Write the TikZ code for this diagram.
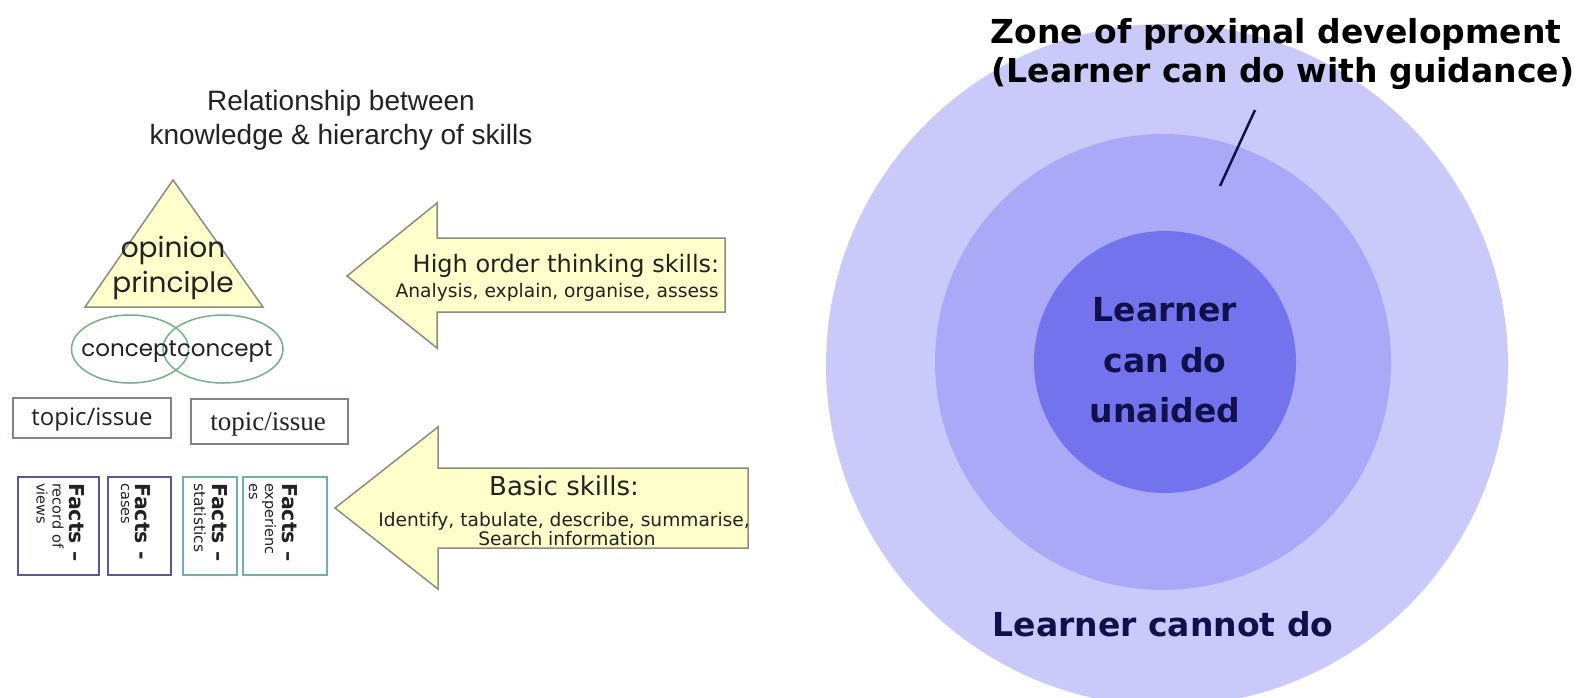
\documentclass[tikz,border=0pt]{standalone}
\usepackage{fontspec}
\setmainfont{Liberation Sans}
\newfontfamily\dvs{DejaVu Sans}
\newfontfamily\popp{Poppins}
\newfontfamily\opsans{Open Sans}
\newfontfamily\tnr{Liberation Serif}
\usetikzlibrary{shapes.geometric}
\definecolor{paleyellow}{HTML}{FFFFCC}
\definecolor{shapegray}{HTML}{8C8C80}
\definecolor{conceptgreen}{HTML}{78AE88}
\definecolor{topicgray}{HTML}{8A7F8A}
\definecolor{factpurple}{HTML}{5E5591}
\definecolor{factteal}{HTML}{74AEAA}
\definecolor{outerc}{HTML}{CACAFA}
\definecolor{middlec}{HTML}{A9A9F7}
\definecolor{innerc}{HTML}{7373EE}
\definecolor{navy}{HTML}{10104A}
\definecolor{darktext}{HTML}{222222}
\begin{document}
\begin{tikzpicture}[x=1pt,y=-1pt,
  yshape/.style={draw=shapegray, fill=paleyellow, line width=1.5pt, line join=miter},
  conceptell/.style={ellipse, draw=conceptgreen, line width=1.5pt, inner sep=0pt},
  topicbox/.style={rectangle, draw=topicgray, line width=1.5pt, inner sep=0pt},
  factbox/.style={rectangle, line width=1.5pt, inner sep=0pt, minimum height=98pt},
  txt/.style={inner sep=0pt, text=darktext},
  factbold/.style={inner sep=0pt, rotate=-90, anchor=west, text=darktext, font=\dvs\bfseries\fontsize{20.5}{20.5}\selectfont},
  factsmall/.style={inner sep=0pt, rotate=-90, anchor=west, text=darktext, font=\dvs\fontsize{14.5}{14.5}\selectfont},
  zonetxt/.style={inner sep=0pt, anchor=base, font=\dvs\bfseries\fontsize{33}{33}\selectfont},
  disc/.style={circle, inner sep=0pt}
]
\path[use as bounding box, fill=white] (0,0) rectangle (1586,697);

% ---------------- left panel ----------------
\node[txt, align=center, font=\fontsize{28}{34}\selectfont] (title) at (341,120)
  {Relationship between\\knowledge \& hierarchy of skills};

\draw[yshape] (173,180) -- (263,307) -- (85,307) -- cycle;
\node[txt, font=\popp\fontsize{28}{28}\selectfont] (opinion) at (173,250) {opinion};
\node[txt, font=\popp\fontsize{28}{28}\selectfont] (principle) at (173,285) {principle};

\node[conceptell, minimum width=117pt, minimum height=68pt] (c1) at (130,349) {};
\node[conceptell, minimum width=120pt, minimum height=68pt] (c2) at (223,349) {};
\node[txt, font=\popp\fontsize{23}{23}\selectfont] (conc) at (177,352) {conceptconcept};

\node[topicbox, minimum width=158pt, minimum height=40pt] (t1) at (92,418) {};
\node[txt, font=\opsans\fontsize{24}{24}\selectfont] (t1txt) at (92,420) {topic/issue};
\node[topicbox, minimum width=157pt, minimum height=45pt] (t2) at (269.5,421.5) {};
\node[txt, font=\tnr\fontsize{27}{27}\selectfont] (t2txt) at (268,424) {topic/issue};

\node[factbox, draw=factpurple, minimum width=81pt] (f1) at (58.5,526) {};
\node[factbox, draw=factpurple, minimum width=63pt] (f2) at (139.5,526) {};
\node[factbox, draw=factteal, minimum width=54pt] (f3) at (210,526) {};
\node[factbox, draw=factteal, minimum width=84pt] (f4) at (285,526) {};

\node[factbold] (f1a) at (77,483) {Facts –};
\node[factsmall] (f1b) at (58,483) {record of};
\node[factsmall] (f1c) at (42,483) {views};
\node[factbold] (f2a) at (143,483) {Facts -};
\node[factsmall] (f2b) at (125,483) {cases};
\node[factbold] (f3a) at (220,483) {Facts –};
\node[factsmall, font=\dvs\fontsize{15.5}{15.5}\selectfont] (f3b) at (200,483) {statistics};
\node[factbold] (f4a) at (290,483) {Facts –};
\node[factsmall] (f4b) at (269,483) {experienc};
\node[factsmall] (f4c) at (253,483) {es};

% arrows
\draw[yshape] (725,238) -- (437,238) -- (437,203) -- (347,276) -- (437,348) -- (437,312) -- (725,312) -- cycle;
\node[txt, font=\dvs\fontsize{24}{24}\selectfont] (hots) at (566,266) {High order thinking skills:};
\node[txt, font=\dvs\fontsize{18.7}{18.7}\selectfont] (hotsb) at (557,292) {Analysis, explain, organise, assess};

\draw[yshape] (748,468) -- (438,468) -- (438,427) -- (335,508) -- (438,589) -- (438,548) -- (748,548) -- cycle;
\node[txt, font=\dvs\fontsize{26}{26}\selectfont] (basic) at (564,486) {Basic skills:};
\node[txt, font=\dvs\fontsize{18.6}{18.6}\selectfont] (basicb) at (564,521) {Identify, tabulate, describe, summarise,};
\node[txt, font=\dvs\fontsize{18.6}{18.6}\selectfont] (basicc) at (567,539) {Search information};

% ---------------- right panel ----------------
\begin{scope}
\clip (0,0) rectangle (1586,697);
\node[disc, fill=outerc, minimum size=682pt] (outer) at (1167,365) {};
\node[disc, fill=middlec, minimum size=456pt] (middle) at (1163,362) {};
\node[disc, fill=innerc, minimum size=262pt] (inner) at (1165,362) {};
\end{scope}

\node[zonetxt, text=black] (zone1) at (1276,43) {Zone of proximal development};
\node[zonetxt, text=black] (zone2) at (1283,82) {(Learner can do with guidance)};
\coordinate (lead1) at (1255,110);
\coordinate (lead2) at (1220,186);
\draw[navy, line width=2.5pt] (lead1) -- (lead2);

\node[zonetxt, text=navy] (in1) at (1165,321) {Learner};
\node[zonetxt, text=navy] (in2) at (1165,372) {can do};
\node[zonetxt, text=navy] (in3) at (1165,422) {unaided};
\node[zonetxt, text=navy] (cannot) at (1163,636) {Learner cannot do};
\end{tikzpicture}
\end{document}
